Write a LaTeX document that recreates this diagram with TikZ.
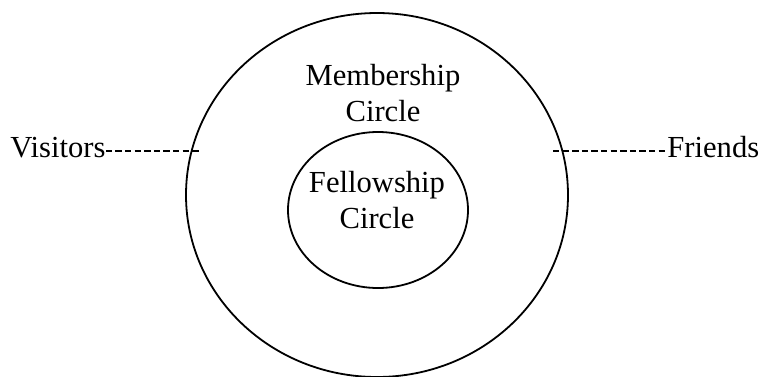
\documentclass[tikz,border=0pt]{standalone}
\usepackage{fontspec}
\setmainfont{Liberation Serif}
\usetikzlibrary{shapes.geometric,positioning}
\tikzset{
  ring/.style={ellipse,draw,line width=0.9pt,inner sep=0pt},
  lbl/.style={align=center,inner sep=0pt,
              font=\fontsize{15.3}{18}\selectfont},
  side/.style={inner sep=0pt,font=\fontsize{15.3}{18}\selectfont},
  lead/.style={line width=0.9pt,dash pattern=on 3.2pt off 1.6pt},
}
\begin{document}
\begin{tikzpicture}[x=0.5pt,y=-0.5pt]
  \useasboundingbox (0,0) rectangle (761,376);
  % the two rings
  \node[ring,minimum width=191pt,minimum height=182pt] (member) at (377,195) {};
  \node[ring,minimum width=90pt,minimum height=78pt] (fellow) at (378,210) {};
  \node[lbl] (memtxt) at (383,93) {Membership\\Circle};
  \node[lbl] (feltxt) at (377,200) {Fellowship\\Circle};
  % the outside groups
  \node[side,anchor=base west] (visit) at (10,157) {Visitors};
  \node[side,anchor=base west] (friend) at (667,157) {Friends};
  \coordinate (vend) at (200,151);
  \coordinate (fend) at (553,151);
  \draw[lead] (visit.east |- vend) -- (vend);
  \draw[lead] (fend) -- (friend.west |- fend);
\end{tikzpicture}
\end{document}
